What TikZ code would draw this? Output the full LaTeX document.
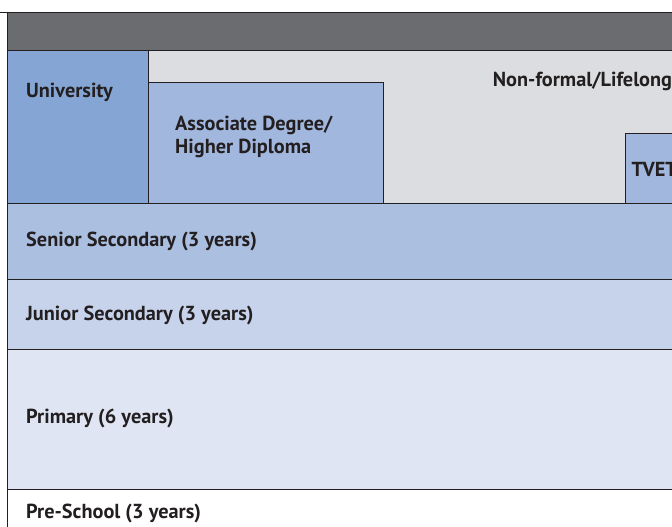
\documentclass[tikz,border=0pt]{standalone}
\usepackage{fontspec}
\setmainfont{PT Sans}
\definecolor{ink}{HTML}{231F20}
\definecolor{hdr}{HTML}{6B6C70}
\definecolor{uni}{HTML}{85A6D4}
\definecolor{nonf}{HTML}{DCDDE0}
\definecolor{assoc}{HTML}{A2B7DE}
\definecolor{senior}{HTML}{ABBFE1}
\definecolor{junior}{HTML}{C6D3EB}
\definecolor{primary}{HTML}{DFE5F3}
\begin{document}
\begin{tikzpicture}[x=1pt,y=-1pt,
  lbl/.style={font=\bfseries\fontsize{20.3}{24}\selectfont, text=ink, inner sep=0pt, anchor=base west},
  band/.style={draw=ink, line width=0.9pt}]
\useasboundingbox (0,0) rectangle (672,527);
\begin{scope}
\clip (0,0) rectangle (672,527);
\fill[white] (0,0) rectangle (672,527);
\fill[hdr] (7.5,12.5) rectangle (680,50);
\filldraw[band, fill=uni] (7.5,50) rectangle (148.3,203);
\filldraw[band, fill=nonf] (148.3,50) rectangle (680,203);
\filldraw[band, fill=assoc] (148.3,82.7) rectangle (383,203);
\filldraw[band, fill=assoc] (625,133.3) rectangle (680,203);
\filldraw[band, fill=senior] (7.5,203) rectangle (680,279.5);
\filldraw[band, fill=junior] (7.5,279.5) rectangle (680,349);
\filldraw[band, fill=primary] (7.5,349) rectangle (680,489);
\filldraw[band, fill=white] (7.5,489) rectangle (680,540);
\draw[band] (0,12.5) -- (680,12.5);
\draw[band] (7.5,12.5) -- (7.5,540);
\node[lbl] (univ) at (26,97.7) {University};
\node[lbl] (nonformal) at (492.7,86.7) {Non-formal/Lifelong};
\node[lbl] (assoc1) at (175,130.7) {Associate Degree/};
\node[lbl] (assoc2) at (175,153) {Higher Diploma};
\node[lbl] (tvet) at (631.5,176) {TVET*};
\node[lbl] (senior) at (26,246) {Senior Secondary (3 years)};
\node[lbl] (junior) at (26,320) {Junior Secondary (3 years)};
\node[lbl] (primary) at (26,423.3) {Primary (6 years)};
\node[lbl] (preschool) at (26,518.3) {Pre-School (3 years)};
\end{scope}
\end{tikzpicture}
\end{document}
